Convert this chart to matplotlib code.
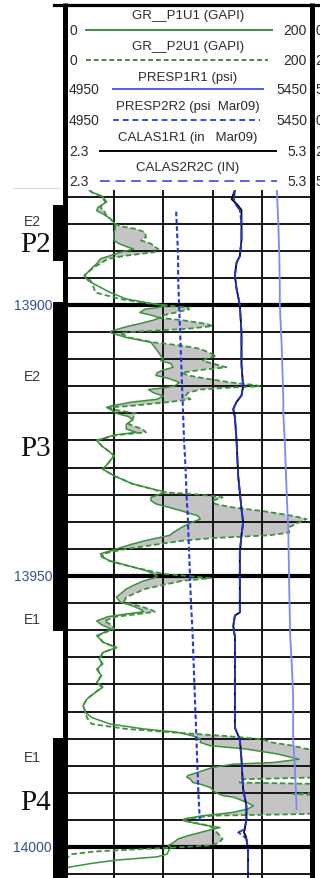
import matplotlib
matplotlib.use("Agg")
import matplotlib.pyplot as plt
import numpy as np
from matplotlib.patches import Rectangle

plt.rcParams["font.family"] = ["Liberation Sans", "DejaVu Sans"]

# ---- gamma ray runs, shared depth samples (ft) ----
depth = [13878.8, 13879.2, 13880.0, 13881.0, 13882.0, 13882.6, 13883.2, 13884.1, 13885.1, 13885.5,
         13886.0, 13886.6, 13887.5, 13888.1, 13888.7, 13889.4, 13889.7, 13890.0, 13890.3, 13890.9,
         13891.5, 13892.4, 13893.0, 13894.6, 13895.5, 13896.4, 13897.7, 13898.9, 13899.8,
         13900.1, 13900.5, 13900.8, 13901.4, 13902.0, 13902.4, 13902.8, 13903.5, 13903.9, 13904.4,
         13904.9, 13905.2, 13906.0, 13906.9, 13907.5, 13908.1, 13908.7, 13909.4, 13909.9, 13910.3,
         13910.8, 13911.5, 13912.0, 13912.5, 13913.0, 13913.6, 13914.3, 13914.8, 13915.0, 13915.3,
         13915.6, 13916.2, 13916.8, 13917.4, 13917.9, 13918.6, 13918.9, 13919.4, 13920.0, 13920.6,
         13921.2, 13922.0, 13922.9, 13923.5, 13924.0, 13925.0, 13926.0, 13927.0, 13927.8, 13929.0,
         13930.3, 13931.5, 13933.0, 13934.0, 13934.5, 13935.0, 13935.5, 13936.1, 13936.7, 13937.3,
         13938.0, 13938.9, 13939.5, 13940.1, 13941.0, 13942.0, 13942.5, 13943.0, 13943.5, 13944.1,
         13945.0, 13945.9, 13946.5, 13947.2, 13948.0, 13949.0, 13949.6, 13950.0, 13950.4, 13950.9,
         13951.8, 13952.4, 13953.9, 13954.8, 13955.5, 13956.2, 13956.6, 13957.0, 13957.5, 13958.3,
         13959.0, 13959.8, 13960.4, 13961.0, 13962.2, 13963.2, 13964.1, 13965.3, 13966.2, 13967.2,
         13968.4, 13969.6, 13970.5, 13971.8, 13972.7, 13973.9, 13975.2, 13976.1, 13977.3, 13978.2,
         13978.8, 13979.5, 13980.1, 13980.7, 13981.3, 13981.9, 13982.2, 13982.8, 13983.8, 13984.4,
         13984.7, 13985.3, 13986.2, 13986.8, 13987.1, 13987.5, 13988.1, 13988.4, 13989.0, 13989.9,
         13990.2, 13990.5, 13990.8, 13991.8, 13992.4, 13993.0, 13993.6, 13993.9, 13994.2, 13994.8,
         13995.1, 13995.8, 13996.4, 13997.0, 13997.9, 13998.5, 13999.2, 13999.7, 14000.0, 14000.4,
         14000.8, 14001.3, 14001.8, 14002.4, 14003.0, 14003.7, 14004.2, 14005.8]
gr_p1u1 = [20, 22, 31, 34, 27, 26, 31, 37, 41, 41,
           41, 40, 40, 40, 44, 52, 56, 50, 45, 37,
           29, 26, 23, 16, 19, 26, 37, 50, 72,
           83, 75, 65, 61, 72, 77, 72, 60, 52, 44,
           37, 38, 50, 70, 72, 74, 76, 78, 80, 78,
           86, 88, 80, 75, 74, 85, 93, 90, 88, 80,
           68, 72, 80, 75, 55, 38, 34, 38, 42, 52,
           55, 50, 50, 58, 40, 26, 30, 36, 40, 36,
           31, 40, 55, 72, 82, 76, 70, 70, 74, 84,
           95, 108, 110, 103, 95, 88, 85, 75, 65, 55,
           42, 29, 30, 37, 50, 66, 72, 75, 72, 64,
           55, 50, 42, 45, 55, 62, 64, 50, 35, 26,
           30, 38, 32, 26, 31, 42, 31, 28, 31, 26,
           30, 26, 31, 23, 18, 15, 17, 22, 37, 64,
           91, 104, 110, 110, 118, 147, 155, 172, 190, 169,
           137, 120, 108, 100, 99, 102, 104, 110, 118, 122,
           125, 128, 137, 148, 153, 148, 136, 125, 112, 97,
           96, 110, 126, 115, 100, 92, 88, 84, 86, 85,
           84, 83, 75, 42, 22, 4, -5, -5]
gr_p2u1 = [20, 22, 30, 33, 29, 32, 33, 37, 41, 46,
           58, 65, 66, 62, 70, 74, 76, 76, 72, 50,
           35, 29, 24, 16, 21, 23, 25, 45, 70,
           83, 100, 101, 90, 78, 77, 95, 115, 120, 100,
           60, 45, 52, 72, 95, 110, 116, 123, 115, 112,
           120, 131, 110, 95, 100, 115, 135, 155, 158, 130,
           110, 100, 98, 102, 85, 55, 36, 42, 58, 56,
           55, 52, 63, 66, 42, 26, 30, 36, 40, 36,
           31, 40, 55, 72, 78, 110, 128, 120, 122, 135,
           160, 185, 196, 190, 182, 182, 165, 120, 95, 77,
           50, 31, 31, 36, 49, 68, 80, 100, 118, 95,
           77, 65, 50, 48, 60, 70, 73, 60, 42, 32,
           38, 40, 33, 27, 31, 42, 31, 29, 30, 27,
           29, 27, 30, 23, 18, 15, 17, 18, 22, 50,
           85, 130, 160, 168, 185, 196, 215, 215, 215, 215,
           215, 215, 215, 215, 215, 142, 142, 215, 215, 215,
           185, 215, 215, 215, 215, 215, 215, 196, 120, 98,
           96, 112, 120, 122, 126, 128, 125, 118, 95, 60,
           25, 6, 3, -5, -5, -5, -5, -5]

# ---- formation pressure runs (psi) ----
pres1_depth = [13878.8, 13885, 13891, 13897, 13900, 13908, 13917, 13920, 13925, 13935,
               13941, 13952, 13961, 13966, 13972, 13980, 13986, 13993]
presp1r1 = [5380, 5383, 5385, 5386, 5386, 5390, 5393, 5393, 5396, 5400,
            5403, 5405, 5407, 5410, 5413, 5413, 5417, 5420]
pres2_depth = [13882.8, 13889, 13891, 13895, 13900, 13905, 13910, 13915, 13920, 13925,
               13930, 13935, 13940, 13945, 13950, 13955, 13960, 13965, 13970, 13975,
               13980, 13985, 13990, 13995.1]
presp2r2 = [5176, 5179, 5180, 5180, 5182, 5184, 5186, 5188, 5190, 5192,
            5195, 5197, 5200, 5202, 5204, 5206, 5209, 5211, 5213, 5215,
            5217, 5219, 5221, 5224]

# ---- caliper runs (in) ----
cal_depth = [13878.8, 13880.5, 13881.5, 13882.5, 13885, 13888, 13891, 13892.2, 13894.6, 13897,
             13900, 13905, 13911, 13915, 13916.7, 13917.9, 13919.2, 13920.7, 13925, 13931.5,
             13937.6, 13940.1, 13942.5, 13945.6, 13950.2, 13954.9, 13956.7, 13957.3, 13959.2, 13961.2,
             13966, 13972, 13978, 13980.1, 13983.8, 13989.3, 13992.4, 13994.8, 13996.7, 13997.3,
             13997.9, 13998.5, 14000.4, 14005.8]
calas1r1 = [4.37, 4.33, 4.40, 4.45, 4.45, 4.45, 4.43, 4.39, 4.37, 4.39,
            4.43, 4.45, 4.45, 4.47, 4.45, 4.39, 4.35, 4.37, 4.39, 4.41,
            4.45, 4.47, 4.45, 4.43, 4.43, 4.43, 4.43, 4.37, 4.35, 4.37,
            4.37, 4.37, 4.37, 4.43, 4.45, 4.47, 4.51, 4.51, 4.49, 4.48,
            4.50, 4.51, 4.53, 4.53]
calas2r2c = [4.37, 4.36, 4.38, 4.43, 4.45, 4.45, 4.43, 4.39, 4.37, 4.39,
             4.43, 4.45, 4.45, 4.47, 4.45, 4.39, 4.35, 4.37, 4.39, 4.41,
             4.45, 4.47, 4.45, 4.43, 4.43, 4.43, 4.43, 4.37, 4.35, 4.37,
             4.37, 4.37, 4.37, 4.43, 4.45, 4.47, 4.51, 4.51, 4.49, 4.41,
             4.47, 4.51, 4.53, 4.53]

# ---- zonation ----
zone_names = ["P2", "P3", "P4"]
zone_top = [13881.5, 13899.4, 13979.9]
zone_base = [13891.9, 13960.1, 14010.0]
zone_label_depth = [13888.7, 13926.4, 13991.7]
sub_names = ["E2", "E2", "E1", "E1"]
sub_label_depth = [13884.5, 13913.1, 13958.0, 13983.4]
depth_marks = [13900, 13950, 14000]

# ---- header (name, left, right, colour, dash) ----
hdr_names = ["GR__P1U1 (GAPI)", "GR__P2U1 (GAPI)", "PRESP1R1 (psi)",
             "PRESP2R2 (psi  Mar09)", "CALAS1R1 (in   Mar09)", "CALAS2R2C (IN)"]
hdr_left = ["0", "0", "4950", "4950", "2.3", "2.3"]
hdr_right = ["200", "200", "5450", "5450", "5.3", "5.3"]
hdr_next = ["0", "2", "5", "0", "2", "5"]

GREEN = "#3d913d"
BLUE_P1 = "#7f88f4"
BLUE_P2 = "#2336e0"
BLUE_C2 = "#2233d6"
GRID = "#161616"

W, H = 320, 879
fig = plt.figure(figsize=(W / 100, H / 100), dpi=100)

# track: x 64.6..311.4 px, y 191..879 px
ax = fig.add_axes([64.6 / W, 0, 246.8 / W, 688 / H])
ax.set_xlim(0, 200)
ax.set_ylim(14005.7, 13878.8)
for s in ax.spines.values():
    s.set_visible(False)
ax.set_xticks([])
ax.set_yticks([])
ax.patch.set_alpha(0)

d = np.array(depth)
g1 = np.array(gr_p1u1, dtype=float)
g2 = np.array(gr_p2u1, dtype=float)
ax.fill_betweenx(d, g1, g2, where=g2 > g1, interpolate=True, color="#c4c4c4", lw=0, zorder=1)

thin = [v for v in range(13880, 14006, 5) if v not in depth_marks]
ax.hlines(thin, 0, 200, color=GRID, lw=1.4, zorder=2)
ax.vlines([40, 80, 120, 160], 13870, 14010, color=GRID, lw=1.4, zorder=2)
ax.hlines(depth_marks, -0.047, 1.0, transform=ax.get_yaxis_transform(),
          color="black", lw=3.0, zorder=2, clip_on=False)

ax.plot(g1, d, color=GREEN, lw=1.1, zorder=4)
ax.plot(g2, d, color=GREEN, lw=1.3, ls=(0, (3, 1.6)), zorder=4)

for top, base in zip(zone_top, zone_base):
    ax.add_patch(Rectangle((-0.047, top), 0.047, base - top, transform=ax.get_yaxis_transform(),
                           color="black", lw=0, clip_on=False, zorder=5))

tr = ax.get_yaxis_transform()
for name, dep in zip(zone_names, zone_label_depth):
    ax.text(-0.116, dep, name, transform=tr, ha="center", va="center", fontsize=21,
            family=["Liberation Serif", "DejaVu Serif"], color="#111111")
for name, dep in zip(sub_names, sub_label_depth):
    ax.text(-0.132, dep, name, transform=tr, ha="center", va="center", fontsize=10, color="#3a3a3a")
for dep in depth_marks:
    ax.text(-0.051, dep, str(dep), transform=tr, ha="right", va="center", fontsize=10, color="#34508f")

# pressure scale 4950..5450
axp = ax.twiny()
axp.set_xlim(4950, 5450)
axp.axis("off")
axp.plot(presp1r1, pres1_depth, color=BLUE_P1, lw=1.3)
axp.plot(presp2r2, pres2_depth, color=BLUE_P2, lw=1.5, ls=(0, (2.2, 1.3)))

# caliper scale 2.3..5.3
axc = ax.twiny()
axc.set_xlim(2.3, 5.3)
axc.axis("off")
axc.plot(calas1r1, cal_depth, color="black", lw=1.3)
axc.plot(calas2r2c, cal_depth, color=BLUE_C2, lw=1.3, ls=(0, (6, 1.5)))

# header and track borders, in pixel space
ov = fig.add_axes([0, 0, 1, 1], zorder=10)
ov.set_xlim(0, W)
ov.set_ylim(H, 0)
ov.axis("off")

title_y = [16, 47, 78, 107, 138, 168]
line_y = [31, 61, 90, 121, 152, 182]
line_x = [(86, 272), (86, 268), (113, 263), (113, 260), (100, 276), (100, 277)]
line_col = [GREEN, GREEN, "#4d5fe6", "#3447e0", "black", "#5165ea"]
line_ls = ["-", (0, (2.5, 1.5)), "-", (0, (3, 2)), "-", (0, (5, 3))]
for i in range(6):
    ov.text(188, title_y[i], hdr_names[i], ha="center", va="center", fontsize=9.5, color="#2b2b2b")
    ov.plot(line_x[i], [line_y[i]] * 2, color=line_col[i], lw=1.4, ls=line_ls[i])
    ov.text(69, line_y[i], hdr_left[i], ha="left", va="center", fontsize=10, color="#2b2b2b")
    ov.text(307, line_y[i], hdr_right[i], ha="right", va="center", fontsize=10, color="#2b2b2b")
    ov.text(315.5, line_y[i], hdr_next[i], ha="left", va="center", fontsize=10, color="#2b2b2b")

ov.plot([54, 318], [5.5, 5.5], color="black", lw=2.3)
ov.plot([65, 65], [4, H], color="black", lw=3.6, solid_capstyle="butt")
ov.plot([311.5, 311.5], [4, H], color="black", lw=3.6, solid_capstyle="butt")
ov.plot([13, 60], [189, 189], color="#dddddd", lw=0.8)

fig.savefig("out.png", dpi=100)
